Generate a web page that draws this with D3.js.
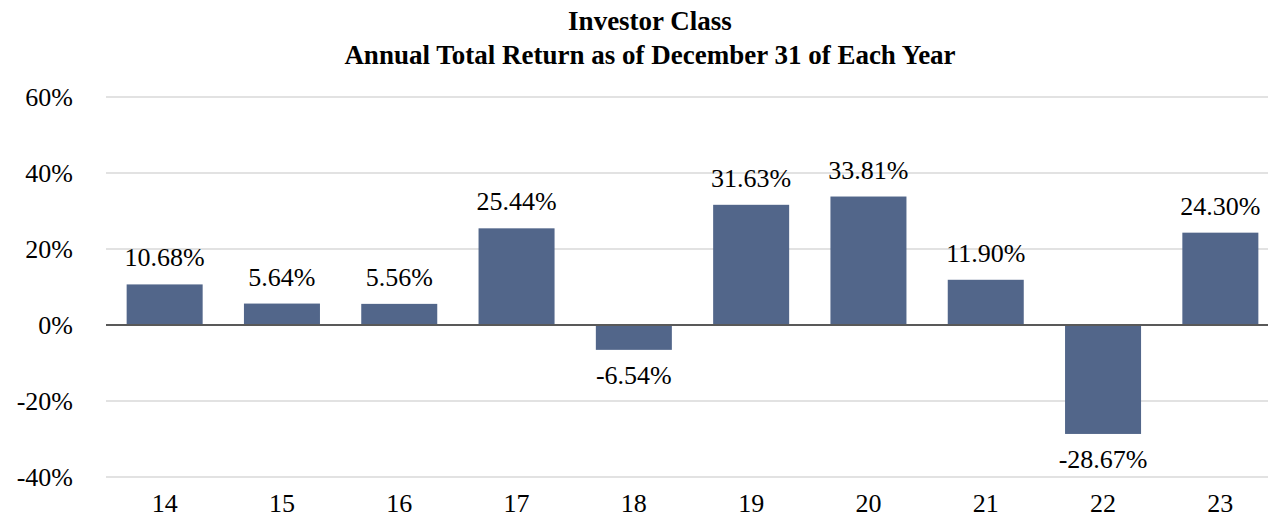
<!DOCTYPE html>
<html lang="en">
    <head>
        <meta charset="utf-8">
        <title>Investor Class Annual Total Return</title>
        <script type="text/javascript" src="https://cdn.jsdelivr.net/npm/d3@7"></script>
        <style type="text/css">
            body { margin: 0; background: #fff; }
        </style>
    </head>
    <body>
        <div class="chart"></div>
        <script type="text/javascript">
            // data
            var years = ["14", "15", "16", "17", "18", "19", "20", "21", "22", "23"];
            var returns = [10.68, 5.64, 5.56, 25.44, -6.54, 31.63, 33.81, 11.90, -28.67, 24.30];
            var yTicks = [-40, -20, 0, 20, 40, 60];
            var titleLines = ["Investor Class", "Annual Total Return as of December 31 of Each Year"];

            var w = 1268;
            var h = 517;
            var font = "'Liberation Serif', 'Times New Roman', serif";
            var svg = d3.select("div.chart")
                        .append("svg")
                        .attr("width", w)
                        .attr("height", h)
                        .attr("font-family", font);

            // scales
            var xScale = d3.scaleBand()
                           .domain(years)
                           .range([106, 1279])
                           .paddingInner(0.352)
                           .paddingOuter(0.176);
            var yScale = d3.scaleLinear()
                           .domain([-40, 60])
                           .range([477, 97]);

            // gridlines
            svg.append("g")
               .selectAll("line")
               .data(yTicks.filter(function(d){ return d !== 0; }))
               .enter()
               .append("line")
               .attr("x1", 106)
               .attr("x2", 1279)
               .attr("y1", function(d){ return yScale(d); })
               .attr("y2", function(d){ return yScale(d); })
               .attr("stroke", "#d9d9d9")
               .attr("stroke-width", 1.5);

            // y labels
            svg.append("g")
               .selectAll("text")
               .data(yTicks)
               .enter()
               .append("text")
               .attr("x", 73)
               .attr("y", function(d){ return yScale(d) + 9; })
               .attr("text-anchor", "end")
               .attr("font-size", 26)
               .text(function(d){ return d + "%"; });

            // bars
            var data = years.map(function(y, i){ return {year: y, value: returns[i]}; });
            svg.append("g")
               .selectAll("rect")
               .data(data)
               .enter()
               .append("rect")
               .attr("x", function(d){ return xScale(d.year); })
               .attr("y", function(d){ return yScale(Math.max(0, d.value)); })
               .attr("width", xScale.bandwidth())
               .attr("height", function(d){ return Math.abs(yScale(d.value) - yScale(0)); })
               .attr("fill", "#52668a");

            // zero line
            svg.append("line")
               .attr("x1", 106)
               .attr("x2", 1279)
               .attr("y1", yScale(0))
               .attr("y2", yScale(0))
               .attr("stroke", "#595959")
               .attr("stroke-width", 2);

            // value labels
            svg.append("g")
               .selectAll("text")
               .data(data)
               .enter()
               .append("text")
               .attr("x", function(d){ return xScale(d.year) + xScale.bandwidth() / 2; })
               .attr("y", function(d){
                   return d.value >= 0 ? yScale(d.value) - 18 : yScale(d.value) + 34;
               })
               .attr("text-anchor", "middle")
               .attr("font-size", 26)
               .text(function(d){ return d.value.toFixed(2) + "%"; });

            // x labels
            svg.append("g")
               .selectAll("text")
               .data(years)
               .enter()
               .append("text")
               .attr("x", function(d){ return xScale(d) + xScale.bandwidth() / 2; })
               .attr("y", 512)
               .attr("text-anchor", "middle")
               .attr("font-size", 26)
               .text(function(d){ return d; });

            // title
            svg.append("g")
               .selectAll("text")
               .data(titleLines)
               .enter()
               .append("text")
               .attr("x", 650)
               .attr("y", function(d, i){ return 30 + i * 34; })
               .attr("text-anchor", "middle")
               .attr("font-size", 27)
               .attr("font-weight", "bold")
               .text(function(d){ return d; });
        </script>
    </body>
</html>
